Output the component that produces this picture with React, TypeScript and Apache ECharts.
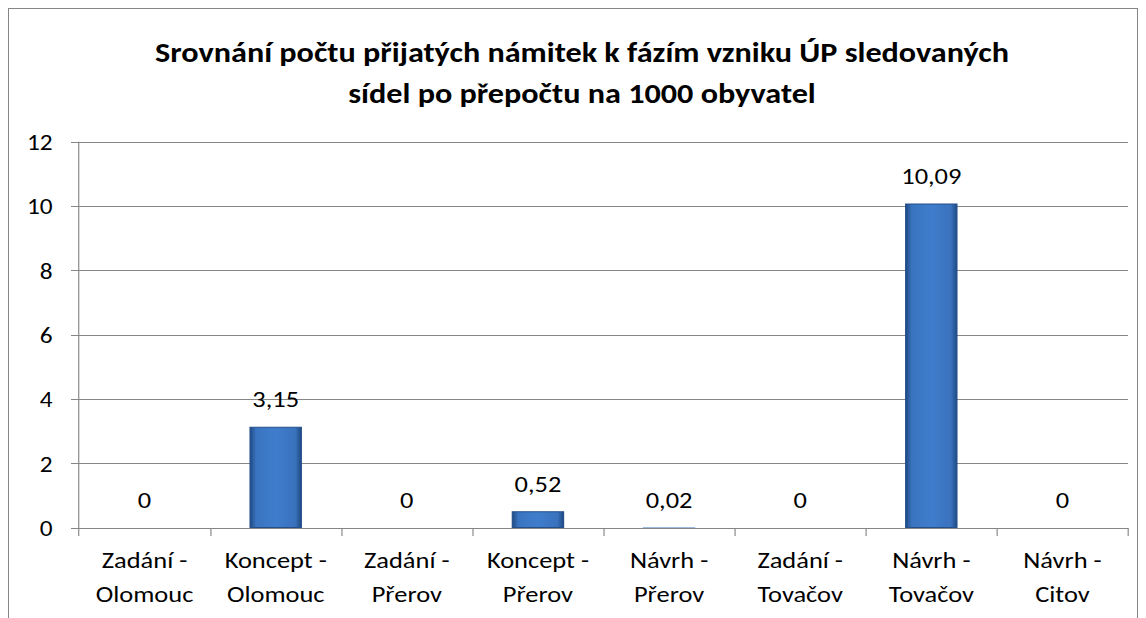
import React, { useEffect, useRef } from "react";
import * as echarts from "echarts";

const categories = [
  "Zadání -\nOlomouc",
  "Koncept -\nOlomouc",
  "Zadání -\nPřerov",
  "Koncept -\nPřerov",
  "Návrh -\nPřerov",
  "Zadání -\nTovačov",
  "Návrh -\nTovačov",
  "Návrh -\nCitov",
];
const values = [0, 3.15, 0, 0.52, 0.02, 0, 10.09, 0];
const valueLabels = ["0", "3,15", "0", "0,52", "0,02", "0", "10,09", "0"];
const yTicks = [0, 2, 4, 6, 8, 10, 12];

const titleText =
  "Srovnání počtu přijatých námitek k fázím vzniku ÚP sledovaných\nsídel po přepočtu na 1000 obyvatel";

const FONT = "Carlito, 'Liberation Sans', 'DejaVu Sans', sans-serif";

// the reference picture is stretched horizontally relative to its text
const INNER_W = 997;
const SX = 1146 / INNER_W;

export default function App() {
  const ref = useRef<HTMLDivElement>(null);
  useEffect(() => {
    if (!ref.current) return;
    const chart = echarts.init(ref.current, undefined, { renderer: "svg" });
    const barColor = new echarts.graphic.LinearGradient(0, 0, 1, 0, [
      { offset: 0, color: "#1f4a84" },
      { offset: 0.12, color: "#3a74c0" },
      { offset: 0.5, color: "#3f7dcc" },
      { offset: 0.88, color: "#3a72bd" },
      { offset: 1, color: "#1f4a84" },
    ]);
    chart.setOption({
      animation: false,
      backgroundColor: "#ffffff",
      graphic: [
        {
          type: "text",
          x: 582 / SX,
          y: 32,
          style: {
            text: titleText,
            textAlign: "center",
            textVerticalAlign: "top",
            fontFamily: FONT,
            fontWeight: "bold",
            fontSize: 28,
            lineHeight: 41,
            fill: "#000000",
          },
        },
      ],
      grid: { left: 79 / SX, right: 18 / SX, top: 142, bottom: 90, containLabel: false },
      xAxis: {
        type: "category",
        data: categories,
        axisLine: { show: true, lineStyle: { color: "#868686", width: 1 } },
        axisTick: { show: true, length: 8, alignWithLabel: false, lineStyle: { color: "#868686" } },
        axisLabel: {
          interval: 0,
          margin: 15,
          fontFamily: FONT,
          fontSize: 23,
          lineHeight: 34,
          color: "#000000",
        },
        splitLine: { show: false },
      },
      yAxis: {
        type: "value",
        min: 0,
        max: 12,
        interval: 2,
        axisLine: { show: true, lineStyle: { color: "#868686", width: 1 } },
        axisTick: { show: true, length: 7, lineStyle: { color: "#868686" } },
        axisLabel: {
          margin: 23,
          fontFamily: FONT,
          fontSize: 22,
          color: "#000000",
          formatter: (v: number) => (yTicks.includes(v) ? String(v) : ""),
        },
        splitLine: { show: true, lineStyle: { color: "#868686", width: 1 } },
      },
      series: [
        {
          type: "bar",
          barWidth: "40%",
          data: values.map((v, i) => ({
            value: v,
            label: {
              show: true,
              position: "top",
              distance: 16,
              formatter: valueLabels[i],
              fontFamily: FONT,
              fontSize: 23,
              color: "#000000",
            },
            itemStyle:
              v > 0.1
                ? { color: barColor, borderColor: "#244f8a", borderWidth: 1 }
                : { color: "#7ea6d8", borderWidth: 0 },
          })),
        },
      ],
    });
    return () => chart.dispose();
  }, []);
  return (
    <div style={{ position: "fixed", left: 0, top: 0, width: 1146, height: 618, overflow: "hidden", background: "#fff" }}>
      <div
        ref={ref}
        style={{
          position: "absolute",
          left: 0,
          top: 0,
          width: INNER_W,
          height: 618,
          transform: `scaleX(${SX})`,
          transformOrigin: "0 0",
        }}
      />
      <div
        style={{
          position: "absolute",
          left: 8,
          top: 8,
          width: 1128,
          height: 700,
          border: "1px solid #868686",
          pointerEvents: "none",
        }}
      />
    </div>
  );
}
